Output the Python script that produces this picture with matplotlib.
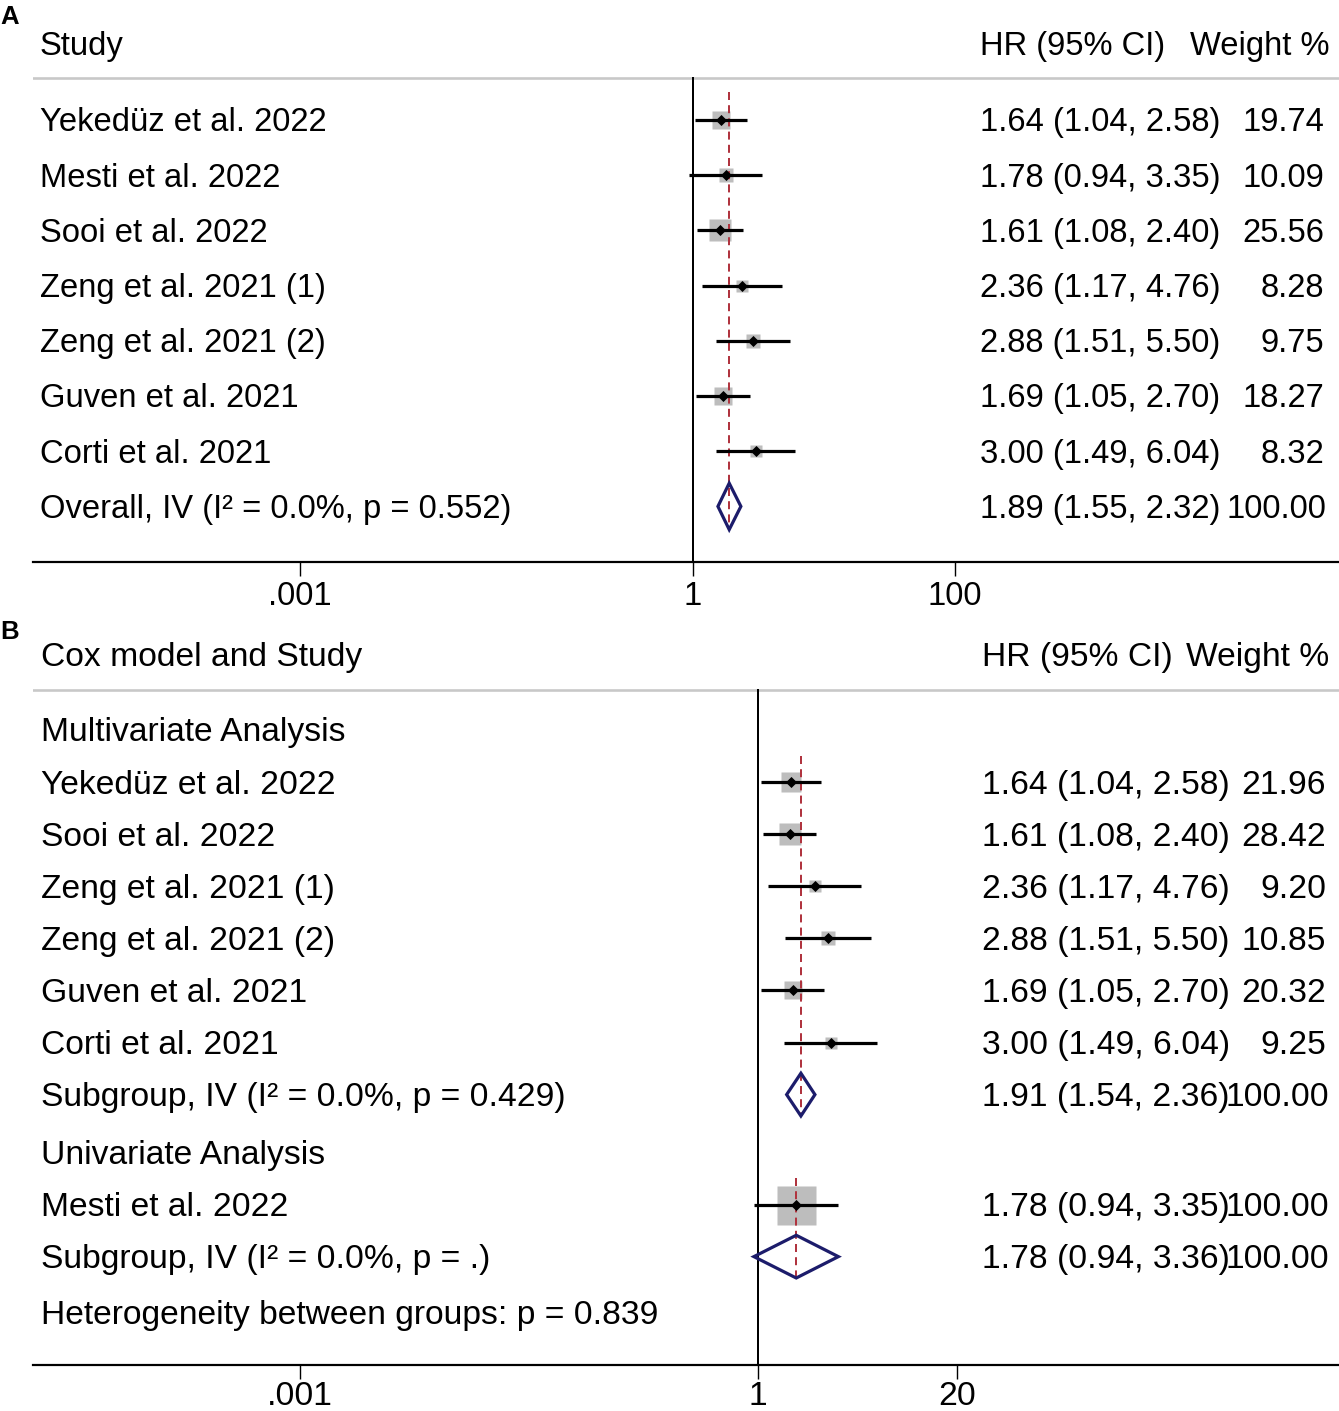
import numpy as np
import matplotlib
matplotlib.use("Agg")
import matplotlib.pyplot as plt
from matplotlib.transforms import blended_transform_factory, ScaledTranslation
from matplotlib.patches import Polygon

plt.rcParams['font.family'] = ['Liberation Sans', 'DejaVu Sans']

# ---------------- data ----------------
studies_A = ["Yekedüz et al. 2022", "Mesti et al. 2022", "Sooi et al. 2022",
             "Zeng et al. 2021 (1)", "Zeng et al. 2021 (2)", "Guven et al. 2021",
             "Corti et al. 2021"]
hr_A = [1.64, 1.78, 1.61, 2.36, 2.88, 1.69, 3.00]
lo_A = [1.04, 0.94, 1.08, 1.17, 1.51, 1.05, 1.49]
hi_A = [2.58, 3.35, 2.40, 4.76, 5.50, 2.70, 6.04]
w_A = [19.74, 10.09, 25.56, 8.28, 9.75, 18.27, 8.32]
overall_A = (1.89, 1.55, 2.32, 100.00)
overall_A_label = "Overall, IV (I² = 0.0%, p = 0.552)"
ticks_A = [0.001, 1, 100]
ticklabels_A = [".001", "1", "100"]

studies_Bm = ["Yekedüz et al. 2022", "Sooi et al. 2022", "Zeng et al. 2021 (1)",
              "Zeng et al. 2021 (2)", "Guven et al. 2021", "Corti et al. 2021"]
hr_Bm = [1.64, 1.61, 2.36, 2.88, 1.69, 3.00]
lo_Bm = [1.04, 1.08, 1.17, 1.51, 1.05, 1.49]
hi_Bm = [2.58, 2.40, 4.76, 5.50, 2.70, 6.04]
w_Bm = [21.96, 28.42, 9.20, 10.85, 20.32, 9.25]
sub_Bm = (1.91, 1.54, 2.36, 100.00)
sub_Bm_label = "Subgroup, IV (I² = 0.0%, p = 0.429)"

studies_Bu = ["Mesti et al. 2022"]
hr_Bu = [1.78]
lo_Bu = [0.94]
hi_Bu = [3.35]
w_Bu = [100.00]
sub_Bu = (1.78, 0.94, 3.36, 100.00)
sub_Bu_label = "Subgroup, IV (I² = 0.0%, p = .)"
het_label = "Heterogeneity between groups: p = 0.839"
ticks_B = [0.001, 1, 20]
ticklabels_B = [".001", "1", "20"]

# ---------------- style ----------------
W, H, DPI = 1339, 1411, 100
fig = plt.figure(figsize=(W / DPI, H / DPI), dpi=DPI)
PX = 72 / DPI  # points per pixel

BOX = "#bdbdbd"
NAVY = "#1c1c6b"
RED = "#b0343f"
GRID = "#c8c8c8"


def fx(px):
    return px / W


def make_axes(top_px, bottom_px, lo_log, hi_log, ylim, labelsize, pad_px):
    ax = fig.add_axes([fx(33), (H - bottom_px) / H, fx(W - 33), (bottom_px - top_px) / H])
    ax.set_xscale('log')
    ax.set_xlim(10 ** lo_log, 10 ** hi_log)
    ax.set_ylim(*ylim)
    for s in ['top', 'left', 'right']:
        ax.spines[s].set_visible(False)
    ax.spines['bottom'].set_linewidth(2.2 * PX)
    ax.yaxis.set_visible(False)
    ax.minorticks_off()
    ax.tick_params(axis='x', which='major', direction='out', length=14 * PX,
                   width=1.4 * PX, pad=pad_px * PX, labelsize=labelsize)
    return ax


def draw_study(ax, y, hr, lo, hi, w, k, lw_px=3.2):
    side = k * np.sqrt(w) * PX
    ax.plot([hr], [y], marker='s', ms=side, color=BOX, mec='none', zorder=2)
    ax.plot([lo, hi], [y, y], color='black', lw=lw_px * PX, solid_capstyle='butt', zorder=3)
    ax.plot([hr], [y], marker='D', ms=7.3 * PX, color='black', mec='black',
            mew=0.8 * PX, zorder=4)


def draw_diamond(ax, y, est, lo, hi, h):
    poly = Polygon([[lo, y], [est, y - h], [hi, y], [est, y + h]], closed=True,
                   fill=False, edgecolor=NAVY, lw=3.2 * PX, joinstyle='miter', zorder=4)
    ax.add_patch(poly)


def text(ax, xpx, y, s, size, ha='left', weight='normal'):
    tr = blended_transform_factory(fig.transFigure, ax.transData)
    off = ScaledTranslation(0, -0.345 * size / 72, fig.dpi_scale_trans)
    ax.text(fx(xpx), y, s, transform=tr + off, ha=ha, va='baseline',
            fontsize=size, fontweight=weight, clip_on=False)


# ---------------- Panel A ----------------
spA = 55.2
fsA = 23.6
axA = make_axes(0, 562, (33 - 693) / 131, (1339 - 693) / 131,
                ((562 - 120) / spA, (0 - 120) / spA), fsA, 5)
yA = list(range(len(studies_A)))
y_ovA = len(studies_A)
y_headA = (44 - 120) / spA
y_lineA = (78 - 120) / spA

axA.axhline(y_lineA, color=GRID, lw=2.6 * PX, zorder=1)
axA.plot([1, 1], [y_lineA, (562 - 120) / spA], color='black', lw=2.0 * PX, zorder=1)
hA = 0.42
axA.plot([overall_A[0]] * 2, [-0.5, y_ovA + hA], color=RED, lw=2.0 * PX,
         dashes=(4, 2.6), zorder=3)

for y, s, h, l, u, w in zip(yA, studies_A, hr_A, lo_A, hi_A, w_A):
    draw_study(axA, y, h, l, u, w, 4.2)
    text(axA, 40, y, s, fsA)
    text(axA, 980, y, f"{h:.2f} ({l:.2f}, {u:.2f})", fsA)
    text(axA, 1324, y, f"{w:.2f}", fsA, ha='right')
draw_diamond(axA, y_ovA, overall_A[0], overall_A[1], overall_A[2], hA)
text(axA, 40, y_ovA, overall_A_label, fsA)
text(axA, 980, y_ovA, f"{overall_A[0]:.2f} ({overall_A[1]:.2f}, {overall_A[2]:.2f})", fsA)
text(axA, 1326, y_ovA, f"{overall_A[3]:.2f}", fsA, ha='right')

text(axA, 40, y_headA, "Study", fsA)
text(axA, 980, y_headA, "HR (95% CI)", fsA)
text(axA, 1329, y_headA, "Weight %", fsA, ha='right')
text(axA, 0, (15 - 120) / spA, "A", 18.5, weight='bold')

axA.set_xticks(ticks_A)
axA.set_xticklabels(ticklabels_A)

# ---------------- Panel B ----------------
spB = 52.1
fsB = 24.2
axB = make_axes(615, 1365, (33 - 758) / 152.7, (1339 - 758) / 152.7,
                ((1365 - 782) / spB, (615 - 782) / spB), fsB, 2)
y_headB = (654 - 782) / spB
y_lineB = (690 - 782) / spB
y_multi = -1
yBm = list(range(len(studies_Bm)))
y_subm = len(studies_Bm)
y_uni = y_subm + 1.11
yBu = [y_uni + 1.0 + i for i in range(len(studies_Bu))]
y_subu = yBu[-1] + 1.0
y_het = y_subu + 1.08

axB.axhline(y_lineB, color=GRID, lw=2.6 * PX, zorder=1)
axB.plot([1, 1], [y_lineB, (1365 - 782) / spB], color='black', lw=2.0 * PX, zorder=1)
hB = 0.41
axB.plot([sub_Bm[0]] * 2, [-0.5, y_subm + hB], color=RED, lw=2.0 * PX,
         dashes=(4, 2.6), zorder=3)
axB.plot([sub_Bu[0]] * 2, [yBu[0] - 0.5, y_subu + hB], color=RED, lw=2.0 * PX,
         dashes=(4, 2.6), zorder=3)

text(axB, 41, y_multi, "Multivariate Analysis", fsB)
for y, s, h, l, u, w in zip(yBm, studies_Bm, hr_Bm, lo_Bm, hi_Bm, w_Bm):
    draw_study(axB, y, h, l, u, w, 4.15)
    text(axB, 41, y, s, fsB)
    text(axB, 982, y, f"{h:.2f} ({l:.2f}, {u:.2f})", fsB)
    text(axB, 1326, y, f"{w:.2f}", fsB, ha='right')
draw_diamond(axB, y_subm, sub_Bm[0], sub_Bm[1], sub_Bm[2], hB)
text(axB, 41, y_subm, sub_Bm_label, fsB)
text(axB, 982, y_subm, f"{sub_Bm[0]:.2f} ({sub_Bm[1]:.2f}, {sub_Bm[2]:.2f})", fsB)
text(axB, 1329, y_subm, f"{sub_Bm[3]:.2f}", fsB, ha='right')

text(axB, 41, y_uni, "Univariate Analysis", fsB)
for y, s, h, l, u, w in zip(yBu, studies_Bu, hr_Bu, lo_Bu, hi_Bu, w_Bu):
    draw_study(axB, y, h, l, u, w, 3.9)
    text(axB, 41, y, s, fsB)
    text(axB, 982, y, f"{h:.2f} ({l:.2f}, {u:.2f})", fsB)
    text(axB, 1329, y, f"{w:.2f}", fsB, ha='right')
draw_diamond(axB, y_subu, sub_Bu[0], sub_Bu[1], sub_Bu[2], hB)
text(axB, 41, y_subu, sub_Bu_label, fsB)
text(axB, 982, y_subu, f"{sub_Bu[0]:.2f} ({sub_Bu[1]:.2f}, {sub_Bu[2]:.2f})", fsB)
text(axB, 1329, y_subu, f"{sub_Bu[3]:.2f}", fsB, ha='right')
text(axB, 41, y_het, het_label, fsB)

text(axB, 41, y_headB, "Cox model and Study", fsB)
text(axB, 982, y_headB, "HR (95% CI)", fsB)
text(axB, 1329, y_headB, "Weight %", fsB, ha='right')
text(axB, 0, (630 - 782) / spB, "B", 18.5, weight='bold')

axB.set_xticks(ticks_B)
axB.set_xticklabels(ticklabels_B)

fig.savefig("out.png", dpi=DPI)
